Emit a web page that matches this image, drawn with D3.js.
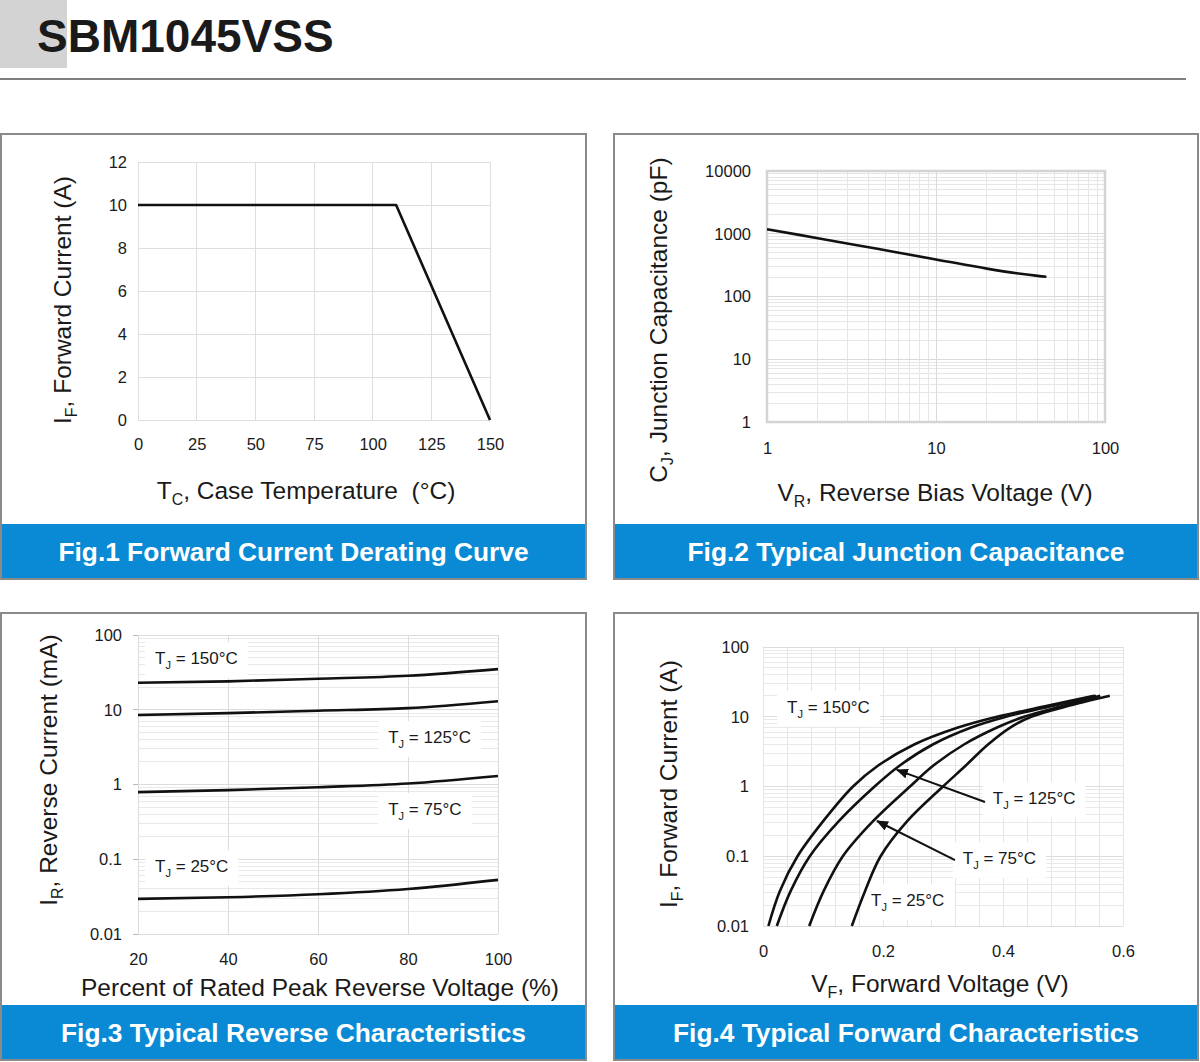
<!DOCTYPE html>
<html><head><meta charset="utf-8">
<script src="https://cdn.jsdelivr.net/npm/d3@7"></script>
<style>
body{margin:0;background:#fff}
svg{display:block}
text{font-family:Arial,"Liberation Sans",Helvetica,sans-serif}
</style>
</head><body>
<svg id="c" width="1200" height="1062"></svg>
<script>
// ---------------- DATA ----------------
const partNumber = "SBM1045VSS";
const figTitles = [
  "Fig.1 Forward Current Derating Curve",
  "Fig.2 Typical Junction Capacitance",
  "Fig.3 Typical Reverse Characteristics",
  "Fig.4 Typical Forward Characteristics"
];
// Fig.1
const fig1Temp = [0, 110, 150];
const fig1Current = [10, 10, 0];
const fig1XTicks = [0, 25, 50, 75, 100, 125, 150];
const fig1YTicks = [0, 2, 4, 6, 8, 10, 12];
// Fig.2
const fig2Voltage = [1, 2, 4.5, 10, 20, 30, 40, 45];
const fig2Cap = [1180, 850, 575, 390, 278, 234, 213, 207];
const fig2XTicks = [1, 10, 100];
const fig2YTicks = [1, 10, 100, 1000, 10000];
// Fig.3
const fig3Percent = [20, 40, 60, 80, 100];
const fig3Ir150 = [23, 24, 26, 28.5, 35];
const fig3Ir125 = [8.5, 9.0, 9.7, 10.5, 13];
const fig3Ir75 = [0.79, 0.84, 0.92, 1.03, 1.3];
const fig3Ir25 = [0.0295, 0.031, 0.034, 0.040, 0.053];
const fig3XTicks = [20, 40, 60, 80, 100];
const fig3YTicks = [0.01, 0.1, 1, 10, 100];
const fig3YTickLabels = ["0.01", "0.1", "1", "10", "100"];
// Fig.4  (forward current points shared by all four temperature curves)
const fig4Current = [0.01, 0.0316, 0.1, 0.316, 1, 2, 4, 7, 10, 14, 20];
const fig4V150 = [0.009, 0.028, 0.0575, 0.100, 0.150, 0.192, 0.252, 0.325, 0.390, 0.468, 0.552];
const fig4V125 = [0.023, 0.046, 0.078, 0.126, 0.186, 0.228, 0.283, 0.347, 0.405, 0.478, 0.555];
const fig4V75 = [0.077, 0.101, 0.133, 0.183, 0.245, 0.284, 0.335, 0.390, 0.435, 0.496, 0.562];
const fig4V25 = [0.148, 0.170, 0.196, 0.240, 0.300, 0.338, 0.375, 0.412, 0.447, 0.505, 0.578];
const fig4XTicks = [0, 0.2, 0.4, 0.6];
const fig4XTickLabels = ["0", "0.2", "0.4", "0.6"];
const fig4YTicks = [0.01, 0.1, 1, 10, 100];
const fig4YTickLabels = ["0.01", "0.1", "1", "10", "100"];
const tjLabels = ["150°C", "125°C", "75°C", "25°C"];

// ---------------- DRAWING ----------------
const svg = d3.select("#c");
const BLUE = "#0a8ad5";
const TICK_FONT = 16.5, TITLE_FONT = 24.5;

// header
svg.append("rect").attr("x", 0).attr("y", 0).attr("width", 67).attr("height", 68).attr("fill", "#d3d3d3");
svg.append("text").attr("x", 37).attr("y", 52).attr("font-size", 46).attr("font-weight", "bold")
  .attr("fill", "#1a1a1a").text(partNumber);
svg.append("line").attr("x1", 0).attr("x2", 1186).attr("y1", 79).attr("y2", 79)
  .attr("stroke", "#555").attr("stroke-width", 1.5);

// panels
const panels = [
  {x: 1, y: 134, w: 585, h: 445},
  {x: 614, y: 134, w: 584, h: 445},
  {x: 1, y: 613, w: 585, h: 447},
  {x: 614, y: 613, w: 584, h: 447}
];
const titleWidths = [470, 437, 465, 466];
panels.forEach((p, i) => {
  svg.append("rect").attr("x", p.x).attr("y", p.y + p.h - 55).attr("width", p.w).attr("height", 55).attr("fill", BLUE);
  svg.append("rect").attr("x", p.x).attr("y", p.y).attr("width", p.w).attr("height", p.h)
    .attr("fill", "none").attr("stroke", "#8a8a8a").attr("stroke-width", 2);
  svg.append("text").attr("x", p.x + p.w / 2).attr("y", p.y + p.h - 18)
    .attr("text-anchor", "middle").attr("font-size", 26).attr("font-weight", "bold").attr("fill", "#fff")
    .attr("textLength", titleWidths[i]).attr("lengthAdjust", "spacingAndGlyphs")
    .text(figTitles[i]);
});

function subLabel(g, parts, size) {
  const t = g.append("text").attr("font-size", size).attr("fill", "#1a1a1a").style("white-space", "pre");
  let shifted = false;
  parts.forEach(pt => {
    const ts = t.append("tspan").text(pt.t);
    if (pt.sub) { ts.attr("font-size", size * 0.65).attr("dy", size * 0.28); shifted = true; }
    else if (shifted) { ts.attr("dy", -size * 0.28); shifted = false; }
  });
  return t;
}
function xTitle(cx, cy, parts) {
  const g = svg.append("g").attr("transform", `translate(${cx},${cy})`);
  subLabel(g, parts, TITLE_FONT).attr("text-anchor", "middle").attr("dy", "0.35em");
}
function yTitle(cx, cy, parts) {
  const g = svg.append("g").attr("transform", `translate(${cx},${cy}) rotate(-90)`);
  subLabel(g, parts, TITLE_FONT).attr("text-anchor", "middle").attr("dy", "0.35em");
}
function styleAxis(g) {
  g.select(".domain").remove();
  g.selectAll("text").attr("font-size", TICK_FONT).attr("fill", "#1a1a1a")
    .attr("font-family", 'Arial,"Liberation Sans",sans-serif');
  g.attr("font-family", null).attr("font-size", null);
}
function logMinor(lo, hi) {
  const out = [];
  for (let d = Math.round(Math.log10(lo)); d < Math.round(Math.log10(hi)); d++) {
    for (let k = 1; k < 10; k++) out.push(k * Math.pow(10, d));
  }
  out.push(hi);
  return out;
}
function hLines(vals, x, y, color, w) {
  svg.append("g").selectAll("line").data(vals).join("line")
    .attr("x1", x.range()[0]).attr("x2", x.range()[1])
    .attr("y1", d => y(d)).attr("y2", d => y(d))
    .attr("stroke", color).attr("stroke-width", w || 1).attr("shape-rendering", "crispEdges");
}
function vLines(vals, x, y, color, w) {
  svg.append("g").selectAll("line").data(vals).join("line")
    .attr("x1", d => x(d)).attr("x2", d => x(d))
    .attr("y1", y.range()[0]).attr("y2", y.range()[1])
    .attr("stroke", color).attr("stroke-width", w || 1).attr("shape-rendering", "crispEdges");
}
function drawCurve(xs, ys, x, y, curve) {
  const pts = xs.map((v, i) => [v, ys[i]]);
  svg.append("path").datum(pts)
    .attr("d", d3.line().x(d => x(d[0])).y(d => y(d[1])).curve(curve || d3.curveMonotoneX))
    .attr("fill", "none").attr("stroke", "#111").attr("stroke-width", 2.6).attr("stroke-linejoin", "round");
}
function boxedLabel(px, py, tempText) {
  const g = svg.append("g").attr("transform", `translate(${px},${py})`);
  const bg = g.append("rect").attr("fill", "#fff");
  const t = subLabel(g, [{t: "T"}, {t: "J", sub: true}, {t: " = " + tempText}], 17).attr("dy", "0.35em");
  const bb = t.node().getBBox();
  bg.attr("x", bb.x - 10).attr("y", bb.y - 7).attr("width", bb.width + 20).attr("height", bb.height + 14);
}

// ---------- Fig.1 ----------
{
  const x = d3.scaleLinear([0, 150], [138, 490]);
  const y = d3.scaleLinear([0, 12], [420, 162]);
  vLines(fig1XTicks, x, y, "#dedede");
  hLines(fig1YTicks, x, y, "#dedede");
  drawCurve(fig1Temp, fig1Current, x, y, d3.curveLinear);
  svg.append("g").attr("transform", `translate(0,${y(0)})`)
    .call(d3.axisBottom(x).tickValues(fig1XTicks).tickSize(0).tickPadding(18)).call(styleAxis);
  svg.append("g").attr("transform", `translate(${x(0)},0)`)
    .call(d3.axisLeft(y).tickValues(fig1YTicks).tickSize(0).tickPadding(11)).call(styleAxis);
  xTitle(306, 490, [{t: "T"}, {t: "C", sub: true}, {t: ", Case Temperature  (°C)"}]);
  yTitle(62, 300, [{t: "I"}, {t: "F", sub: true}, {t: ", Forward Current (A)"}]);
}

// ---------- Fig.2 ----------
{
  const x = d3.scaleLog([1, 100], [767, 1105]);
  const y = d3.scaleLog([1, 10000], [422, 171]);
  vLines(logMinor(1, 100), x, y, "#e6e6e6");
  hLines(logMinor(1, 10000), x, y, "#e6e6e6");
  vLines(fig2XTicks, x, y, "#dadada");
  hLines(fig2YTicks, x, y, "#dadada");
  svg.append("rect").attr("x", x(1)).attr("y", y(10000)).attr("width", x(100) - x(1)).attr("height", y(1) - y(10000))
    .attr("fill", "none").attr("stroke", "#d4d4d4").attr("stroke-width", 2.5);
  drawCurve(fig2Voltage, fig2Cap, x, y, d3.curveCatmullRom.alpha(0.5));
  svg.append("g").attr("transform", `translate(0,${y(1)})`)
    .call(d3.axisBottom(x).tickValues(fig2XTicks).tickFormat(d3.format("d")).tickSize(0).tickPadding(20)).call(styleAxis);
  svg.append("g").attr("transform", `translate(${x(1)},0)`)
    .call(d3.axisLeft(y).tickValues(fig2YTicks).tickFormat(d3.format("d")).tickSize(0).tickPadding(16)).call(styleAxis);
  xTitle(935, 492, [{t: "V"}, {t: "R", sub: true}, {t: ", Reverse Bias Voltage (V)"}]);
  yTitle(658, 320, [{t: "C"}, {t: "J", sub: true}, {t: ", Junction Capacitance (pF)"}]);
}

// ---------- Fig.3 ----------
{
  const x = d3.scaleLinear([20, 100], [138, 498]);
  const y = d3.scaleLog([0.01, 100], [934, 635]);
  hLines(logMinor(0.01, 100), x, y, "#e9e9e9");
  hLines(fig3YTicks, x, y, "#dcdcdc");
  vLines(fig3XTicks, x, y, "#dcdcdc");
  svg.append("g").selectAll("line").data(fig3YTicks).join("line")
    .attr("x1", x(20) - 5).attr("x2", x(20)).attr("y1", d => y(d)).attr("y2", d => y(d))
    .attr("stroke", "#bbb").attr("shape-rendering", "crispEdges");
  boxedLabel(x(23.8), y(49), tjLabels[0]);
  boxedLabel(x(75.6), y(4.3), tjLabels[1]);
  boxedLabel(x(75.6), y(0.47), tjLabels[2]);
  boxedLabel(x(23.8), y(0.081), tjLabels[3]);
  [fig3Ir150, fig3Ir125, fig3Ir75, fig3Ir25].forEach(s => drawCurve(fig3Percent, s, x, y));
  svg.append("g").attr("transform", `translate(0,${y(0.01)})`)
    .call(d3.axisBottom(x).tickValues(fig3XTicks).tickSize(0).tickPadding(19)).call(styleAxis);
  svg.append("g").attr("transform", `translate(${x(20)},0)`)
    .call(d3.axisLeft(y).tickValues(fig3YTicks).tickFormat((d, i) => fig3YTickLabels[i]).tickSize(0).tickPadding(16)).call(styleAxis);
  xTitle(320, 987, [{t: "Percent of Rated Peak Reverse Voltage (%)"}]);
  yTitle(48, 770, [{t: "I"}, {t: "R", sub: true}, {t: ", Reverse Current (mA)"}]);
}

// ---------- Fig.4 ----------
{
  const x = d3.scaleLinear([0, 0.6], [763, 1123]);
  const y = d3.scaleLog([0.01, 100], [926, 647]);
  vLines(d3.range(16).map(i => i * 0.04), x, y, "#e4e4e4");
  hLines(logMinor(0.01, 100), x, y, "#e9e9e9");
  hLines(fig4YTicks, x, y, "#dcdcdc");
  boxedLabel(x(0.04), y(13.8), tjLabels[0]);
  boxedLabel(x(0.383), y(0.68), tjLabels[1]);
  boxedLabel(x(0.333), y(0.094), tjLabels[2]);
  boxedLabel(x(0.18), y(0.0236), tjLabels[3]);
  [fig4V150, fig4V125, fig4V75, fig4V25].forEach(vs => drawCurve(vs, fig4Current, x, y, d3.curveCatmullRom.alpha(0.5)));
  svg.append("defs").append("marker").attr("id", "ah").attr("viewBox", "0 0 12 10")
    .attr("refX", 11).attr("refY", 5).attr("markerWidth", 12).attr("markerHeight", 10)
    .attr("markerUnits", "userSpaceOnUse").attr("orient", "auto")
    .append("path").attr("d", "M0,0 L12,5 L0,10 Z").attr("fill", "#111");
  const arrows = [
    {from: [0.37, 0.6], to: [0.223, 1.73]},
    {from: [0.32, 0.088], to: [0.19, 0.32]}
  ];
  arrows.forEach(a => {
    svg.append("line").attr("x1", x(a.from[0])).attr("y1", y(a.from[1]))
      .attr("x2", x(a.to[0])).attr("y2", y(a.to[1]))
      .attr("stroke", "#111").attr("stroke-width", 2).attr("marker-end", "url(#ah)");
  });
  svg.append("g").attr("transform", `translate(0,${y(0.01)})`)
    .call(d3.axisBottom(x).tickValues(fig4XTicks).tickFormat((d, i) => fig4XTickLabels[i]).tickSize(0).tickPadding(19)).call(styleAxis);
  svg.append("g").attr("transform", `translate(${x(0)},0)`)
    .call(d3.axisLeft(y).tickValues(fig4YTicks).tickFormat((d, i) => fig4YTickLabels[i]).tickSize(0).tickPadding(14)).call(styleAxis);
  xTitle(940, 983, [{t: "V"}, {t: "F", sub: true}, {t: ", Forward Voltage (V)"}]);
  yTitle(668, 784, [{t: "I"}, {t: "F", sub: true}, {t: ", Forward Current (A)"}]);
}
</script>
</body></html>
